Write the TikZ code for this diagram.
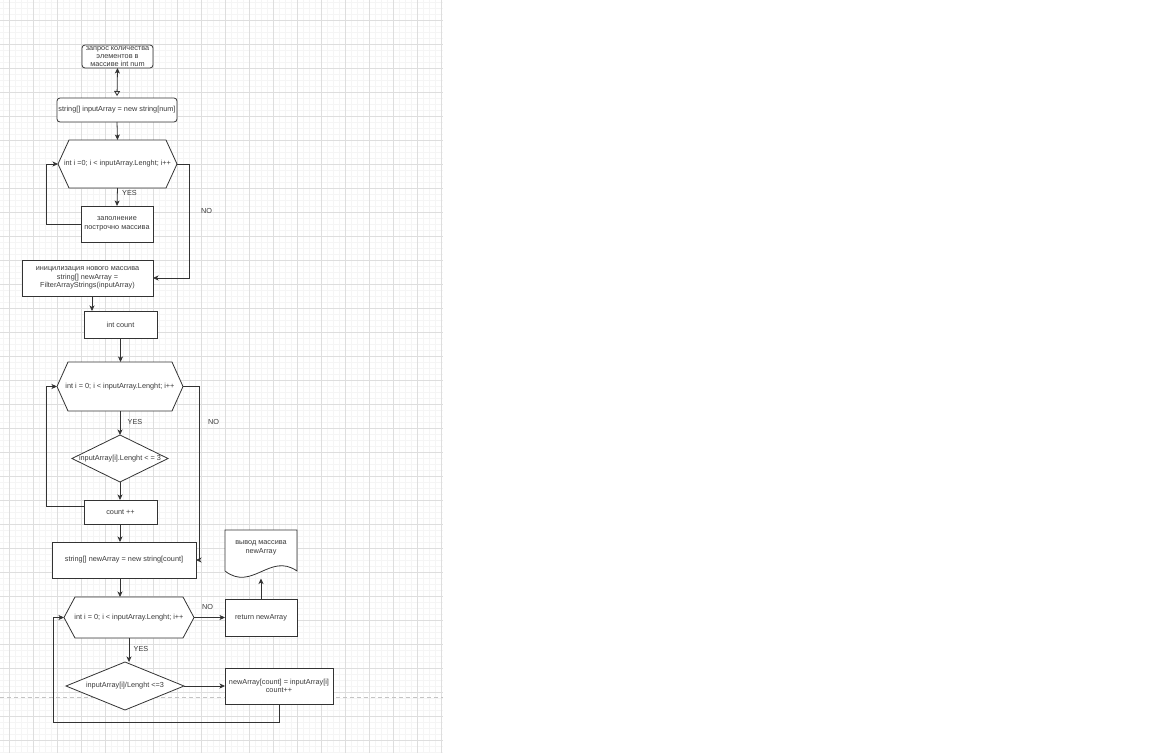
\documentclass[tikz,border=0pt]{standalone}
\usepackage{fontspec}
\setmainfont{Liberation Sans}
\usetikzlibrary{arrows.meta,calc}
\pgfdeclarelayer{paper}
\pgfdeclarelayer{grid}
\pgfdeclarelayer{shapes}
\pgfsetlayers{paper,grid,shapes,main}
\definecolor{linec}{HTML}{333333}
\definecolor{textc}{HTML}{3A3A3A}
\definecolor{minorc}{HTML}{F5F5F5}
\definecolor{majorc}{HTML}{DEDEDE}
\definecolor{dashc}{HTML}{C4C4C4}
\tikzset{
  base/.style={inner sep=0pt, outer sep=0pt, align=center, text=textc,
    font=\fontsize{7.3}{8.6}\selectfont},
  box/.style={base, draw=linec, fill=white, line width=0.8pt},
  rbox/.style={box, rounded corners=3pt},
  ghost/.style={base, draw=none},
  shapeline/.style={draw=linec, line width=0.8pt, fill=white},
  conn/.style={draw=linec, line width=0.8pt, -{Stealth[length=5.5pt,width=5pt,inset=1.5pt]}},
  lbl/.style={base},
  minorline/.style={draw=minorc, line width=0.6pt},
  majorline/.style={draw=majorc, line width=0.8pt},
}
\newcommand{\drawhex}[2]{\begin{pgfonlayer}{shapes}\path[shapeline] (#1.west) -- ([xshift=#2]#1.north west) -- ([xshift=-#2]#1.north east) -- (#1.east) -- ([xshift=-#2]#1.south east) -- ([xshift=#2]#1.south west) -- cycle;\end{pgfonlayer}}
\newcommand{\drawdiam}[1]{\begin{pgfonlayer}{shapes}\path[shapeline] (#1.north) -- (#1.east) -- (#1.south) -- (#1.west) -- cycle;\end{pgfonlayer}}
\begin{document}
\begin{tikzpicture}[x=1pt,y=-1pt]
\useasboundingbox (0,0) rectangle (1152,753);
\begin{pgfonlayer}{paper}
\fill[white] (0,0) rectangle (1152,753);
\end{pgfonlayer}
% grid
\begin{pgfonlayer}{grid}
\foreach \i in {0,...,73} {\draw[minorline] ({3.5+6*\i},0) -- ({3.5+6*\i},753);}
\foreach \i in {0,...,125} {\draw[minorline] (0,{2.5+6*\i}) -- (443,{2.5+6*\i});}
\foreach \i in {0,...,18} {\draw[majorline] ({9.5+24*\i},0) -- ({9.5+24*\i},753);}
\foreach \i in {0,...,30} {\draw[majorline] (0,{20.5+24*\i}) -- (443,{20.5+24*\i});}
\draw[dashc, line width=0.8pt, dash pattern=on 4pt off 3pt] (0,697) -- (443,697);
\end{pgfonlayer}

% nodes
\node[rbox, minimum width=71pt, minimum height=23pt, font=\fontsize{7.3}{8}\selectfont] (n1) at (117.5,56.5) {запрос количества\\элементов в\\массиве int num};
\node[rbox, minimum width=120pt, minimum height=24pt] (n2) at (117,110) {string[] inputArray = new string[num]};
\node[ghost, minimum width=119pt, minimum height=48pt] (h1) at (117.5,164) {int i =0; i < inputArray.Lenght; i++};
\drawhex{h1}{11pt}
\node[box, minimum width=72pt, minimum height=36pt] (b1) at (117,224) {заполнение\\построчно массива};
\node[box, minimum width=131pt, minimum height=36pt] (b2) at (87.5,278) {иницилизация нового массива\\string[] newArray =\\FilterArrayStrings(inputArray)};
\node[box, minimum width=73pt, minimum height=27pt] (b3) at (120.5,324.5) {int count};
\node[ghost, minimum width=126pt, minimum height=49pt] (h2) at (120,386.5) {int i = 0; i < inputArray.Lenght; i++};
\drawhex{h2}{11pt}
\node[ghost, minimum width=96pt, minimum height=47pt] (d1) at (120,458.5) {inputArray[i].Lenght < = 3};
\drawdiam{d1}
\node[box, minimum width=73pt, minimum height=24pt] (b4) at (120.5,512) {count ++};
\node[box, minimum width=144pt, minimum height=36pt] (b5) at (124,560) {string[] newArray = new string[count]};
\node[ghost, minimum width=130pt, minimum height=41pt] (h3) at (129,617.5) {int i = 0; i < inputArray.Lenght; i++};
\drawhex{h3}{11pt}
\node[box, minimum width=72pt, minimum height=37pt] (b6) at (261,617.5) {return newArray};
\node[ghost, minimum width=72pt, minimum height=35pt] (doc) at (261,547.5) {вывод массива\\newArray};
\begin{pgfonlayer}{shapes}
\path[shapeline] (doc.north west) -- (doc.north east) -- ([yshift=-6pt]doc.south east) .. controls (270,552) and (252,592) .. ([yshift=-6pt]doc.south west) -- cycle;
\end{pgfonlayer}
\coordinate (docw) at (261,578.5);
\node[ghost, minimum width=118pt, minimum height=48pt] (d2) at (125,686) {inputArray[i]/Lenght <=3};
\drawdiam{d2}
\node[box, minimum width=108pt, minimum height=36pt] (b7) at (279,686) {newArray[count] = inputArray[i]\\count++};

% connectors
\draw[draw=linec, line width=0.8pt, {Triangle[open,length=5pt,width=6pt]}-{Stealth[length=5.5pt,width=5pt,inset=1.5pt]}, shorten <=2pt] (n2.north) -- (n1.south);
\draw[conn] (n2.south) -- (h1.north);
\draw[conn] (h1.south) -- (b1.north);
\draw[conn] (b1.west) -- ++(-35,0) |- (h1.west);
\draw[conn] (h1.east) -- ++(12,0) |- (b2.east);
\draw[conn] ([xshift=4.5pt]b2.south) -- ([xshift=4.5pt]b2.south |- b3.north);
\draw[conn] (b3.south) -- (b3.south |- h2.north);
\draw[conn] (h2.south) -- (d1.north);
\draw[conn] (d1.south) -- (d1.south |- b4.north);
\draw[conn] ([yshift=6pt]b4.west) -- ++(-38,0) |- (h2.west);
\draw[conn] (h2.east) -- ++(16,0) |- (b5.east);
\draw[conn] ([xshift=-0.5pt]b4.south) -- ([xshift=-0.5pt]b4.south |- b5.north);
\draw[conn] ([xshift=-4pt]b5.south) -- ([xshift=-4pt]b5.south |- h3.north);
\draw[conn] (h3.east) -- (b6.west);
\draw[conn] (b6.north) -- (docw);
\draw[conn] (h3.south) -- (h3.south |- d2.north);
\draw[conn] (d2.east) -- (b7.west);
\draw[conn] (b7.south) -- ++(0,18) -- ++(-226,0) |- (h3.west);

% labels
\node[lbl] (yes1) at (129.5,193) {YES};
\node[lbl] (no1) at (206.5,211) {NO};
\node[lbl] (yes2) at (135,422) {YES};
\node[lbl] (no2) at (213.5,422) {NO};
\node[lbl] (no3) at (207.5,607) {NO};
\node[lbl] (yes3) at (141,649) {YES};
\end{tikzpicture}
\end{document}
